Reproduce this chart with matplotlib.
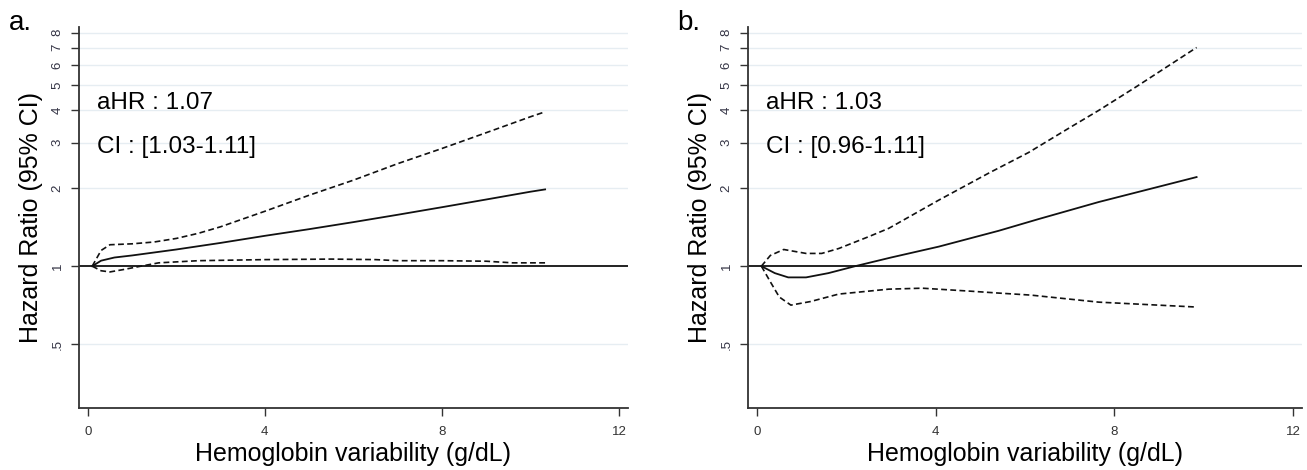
import matplotlib
matplotlib.use('Agg')
import matplotlib.pyplot as plt
from matplotlib.ticker import FixedLocator, FixedFormatter, NullLocator

plt.rcParams['font.family'] = ['Liberation Sans', 'DejaVu Sans']

# panel a
a_x = [0.1, 0.3, 0.6, 1.0, 2.0, 3.0, 4.0, 5.0, 6.0, 7.0, 8.0, 9.0, 10.0, 10.33]
a_hr = [1.0, 1.05, 1.08, 1.10, 1.16, 1.23, 1.31, 1.39, 1.48, 1.58, 1.69, 1.81, 1.94, 1.98]
a_up_x = [0.1, 0.3, 0.5, 1.0, 1.5, 2.0, 2.5, 3.0, 4.0, 5.0, 6.0, 7.0, 8.0, 9.0, 10.0, 10.33]
a_up = [1.0, 1.15, 1.21, 1.22, 1.24, 1.28, 1.34, 1.42, 1.63, 1.88, 2.15, 2.49, 2.85, 3.28, 3.78, 3.95]
a_lo_x = [0.1, 0.3, 0.5, 0.8, 1.2, 1.6, 2.5, 4.0, 5.5, 6.5, 7.0, 8.0, 9.0, 9.6, 10.33]
a_lo = [1.0, 0.96, 0.95, 0.97, 1.0, 1.03, 1.05, 1.06, 1.065, 1.06, 1.05, 1.05, 1.045, 1.03, 1.03]

# panel b
b_x = [0.1, 0.4, 0.7, 1.1, 1.6, 2.2, 3.0, 4.07, 5.41, 6.3, 7.65, 9.84]
b_hr = [1.0, 0.94, 0.905, 0.905, 0.94, 1.0, 1.08, 1.19, 1.37, 1.52, 1.77, 2.21]
b_up_x = [0.1, 0.3, 0.6, 1.1, 1.45, 1.83, 2.5, 2.95, 4.07, 5.19, 6.08, 7.0, 7.65, 8.5, 9.84]
b_up = [1.0, 1.1, 1.16, 1.12, 1.12, 1.17, 1.3, 1.40, 1.80, 2.29, 2.75, 3.43, 4.0, 4.95, 7.0]
b_lo_x = [0.1, 0.3, 0.5, 0.76, 1.2, 1.83, 2.95, 3.7, 4.8, 5.41, 6.13, 7.65, 9.84]
b_lo = [1.0, 0.87, 0.76, 0.707, 0.73, 0.78, 0.815, 0.822, 0.80, 0.787, 0.773, 0.726, 0.695]

yticks = [0.5, 1, 2, 3, 4, 5, 6, 7, 8]
ylabels = ['.5', '1', '2', '3', '4', '5', '6', '7', '8']
xticks = [0, 4, 8, 12]

fig = plt.figure(figsize=(13.07, 4.70), dpi=100)
ax1 = fig.add_axes([0.0604, 0.1319, 0.4200, 0.8106])
ax2 = fig.add_axes([0.5723, 0.1319, 0.4239, 0.8106])

panels = [
    (ax1, a_x, a_hr, a_up_x, a_up, a_lo_x, a_lo, 'aHR : 1.07', 'CI : [1.03-1.11]'),
    (ax2, b_x, b_hr, b_up_x, b_up, b_lo_x, b_lo, 'aHR : 1.03', 'CI : [0.96-1.11]'),
]

for ax, x, hr, ux, up, lx, lo, t1, t2 in panels:
    ax.set_yscale('log')
    ax.set_ylim(0.283, 8.4)
    ax.set_xlim(-0.2, 12.2)
    for g in [0.5, 2, 3, 4, 5, 6, 7, 8]:
        ax.axhline(g, color='#e6edf2', lw=1.0, zorder=0)
    ax.axhline(1, color='#222222', lw=1.4, zorder=1)
    ax.plot(x, hr, color='#111111', lw=1.3, zorder=3)
    ax.plot(ux, up, color='#111111', lw=1.2, ls=(0, (3.5, 2)), zorder=3)
    ax.plot(lx, lo, color='#111111', lw=1.2, ls=(0, (3.5, 2)), zorder=3)

    ax.yaxis.set_major_locator(FixedLocator(yticks))
    ax.yaxis.set_major_formatter(FixedFormatter(ylabels))
    ax.yaxis.set_minor_locator(NullLocator())
    ax.set_xticks(xticks)
    ax.tick_params(axis='y', labelsize=9.5, labelcolor='#333344', length=6,
                   width=1, color='#333333', pad=5, labelrotation=90)
    for lab in ax.get_yticklabels():
        lab.set_va('center')
    ax.tick_params(axis='x', labelsize=9.5, labelcolor='#333333', length=6,
                   width=1, color='#333333', pad=7)
    for s in ['top', 'right']:
        ax.spines[s].set_visible(False)
    for s in ['left', 'bottom']:
        ax.spines[s].set_color('#333333')
        ax.spines[s].set_linewidth(1.3)

    ax.set_ylabel('Hazard Ratio (95% CI)', fontsize=18, labelpad=6)
    ax.set_xlabel('Hemoglobin variability (g/dL)', fontsize=18, labelpad=3)
    ax.text(0.033, 0.80, t1, transform=ax.transAxes, fontsize=17.5, va='center')
    ax.text(0.033, 0.685, t2, transform=ax.transAxes, fontsize=17.5, va='center')

fig.text(0.007, 0.952, 'a.', fontsize=20, va='center')
fig.text(0.518, 0.952, 'b.', fontsize=20, va='center')

fig.savefig('out.png', dpi=100)
